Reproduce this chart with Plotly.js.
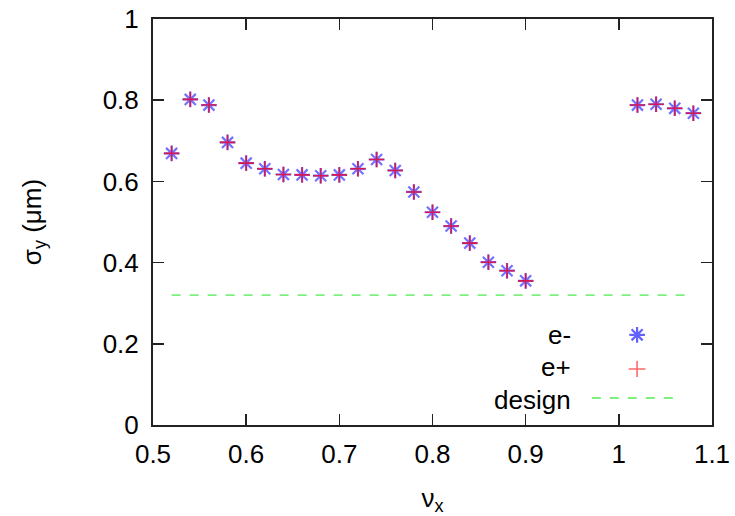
<!DOCTYPE html>
<html><head><meta charset="utf-8">
<script src="https://cdn.plot.ly/plotly-3.0.1.min.js"></script>
<style>html,body{margin:0;padding:0;background:#fff}#chart{width:735px;height:516px}</style>
</head><body><div id="chart"></div>
<script>
const tuneX = [0.52,0.54,0.56,0.58,0.60,0.62,0.64,0.66,0.68,0.70,0.72,0.74,0.76,0.78,0.80,0.82,0.84,0.86,0.88,0.90,1.02,1.04,1.06,1.08];
const sigmaElectron = [0.669,0.802,0.788,0.696,0.645,0.631,0.617,0.616,0.614,0.616,0.631,0.654,0.627,0.574,0.524,0.490,0.448,0.401,0.380,0.355,0.788,0.790,0.780,0.768];
const sigmaPositron = [0.669,0.802,0.788,0.696,0.645,0.631,0.617,0.616,0.614,0.616,0.631,0.654,0.627,0.574,0.524,0.490,0.448,0.401,0.380,0.355,0.788,0.790,0.780,0.768];
const designX = [0.52,1.08];
const designY = [0.32,0.32];
const seriesNames = ['e-','e+','design'];
const xTickVals = [0.5,0.6,0.7,0.8,0.9,1.0,1.1];
const xTickText = ['0.5','0.6','0.7','0.8','0.9','1','1.1'];
const yTickVals = [0,0.2,0.4,0.6,0.8,1];
const yTickText = ['0','0.2','0.4','0.6','0.8','1'];

const font = "Liberation Sans, Arial, sans-serif";
const fs = 26;
const blue = 'rgba(60,60,255,0.72)';
const red = 'rgba(240,0,40,0.8)';
const green = '#7ef07e';

const traces = [
  {x: tuneX, y: sigmaElectron, mode:'markers', type:'scatter', name: seriesNames[0],
   marker:{symbol:'asterisk-open', size:13, color:blue, line:{color:blue, width:2.2}}},
  {x: tuneX, y: sigmaPositron, mode:'markers', type:'scatter', name: seriesNames[1],
   marker:{symbol:'cross-thin-open', size:11, color:red, line:{color:red, width:1.6}}},
  {x: designX, y: designY, mode:'lines', type:'scatter', name: seriesNames[2],
   line:{color:green, width:1.8, dash:'dash'}},
  // legend keys on invisible overlay axes
  {x:[0.5], y:[0.5], xaxis:'x2', yaxis:'y2', mode:'markers', showlegend:false, hoverinfo:'skip',
   marker:{symbol:'asterisk-open', size:13, color:'rgba(70,70,255,0.85)', line:{color:'rgba(70,70,255,0.85)', width:2.2}}},
  {x:[0.5], y:[0.5], xaxis:'x3', yaxis:'y3', mode:'markers', showlegend:false, hoverinfo:'skip',
   marker:{symbol:'cross-thin-open', size:12, color:'rgba(255,90,90,0.9)', line:{color:'rgba(255,90,90,0.9)', width:1.6}}},
  {x:[0,1], y:[0.5,0.5], xaxis:'x4', yaxis:'y4', mode:'lines', showlegend:false, hoverinfo:'skip',
   line:{color:green, width:1.8, dash:'dash'}}
];

const hid = {visible:false, range:[0,1], fixedrange:true, showticklabels:false};
const layout = {
  width:735, height:516,
  margin:{l:153, r:23, t:19, b:91},
  paper_bgcolor:'#fff', plot_bgcolor:'#fff',
  showlegend:false,
  font:{family:font, size:fs, color:'#000'},
  xaxis:{range:[0.5,1.1], tickvals:xTickVals, ticktext:xTickText,
    showgrid:false, zeroline:false, showline:true, mirror:'ticks', linecolor:'#222', linewidth:2,
    ticks:'inside', ticklen:11, tickwidth:1.5, tickcolor:'#222', ticklabelstandoff:5,
    tickfont:{family:font, size:fs},
    title:{text:'ν<sub>x</sub>', font:{family:font, size:fs}, standoff:22}},
  yaxis:{range:[0,1], tickvals:yTickVals, ticktext:yTickText,
    showgrid:false, zeroline:false, showline:true, mirror:'ticks', linecolor:'#222', linewidth:2,
    ticks:'inside', ticklen:11, tickwidth:1.5, tickcolor:'#222', ticklabelstandoff:7,
    tickfont:{family:font, size:fs},
    title:{text:'σ<sub>y</sub> (μm)', font:{family:font, size:fs}, standoff:54}},
  xaxis2:Object.assign({domain:[0.846,0.886], anchor:'y2'}, hid),
  yaxis2:Object.assign({domain:[0.202,0.242], anchor:'x2'}, hid),
  xaxis3:Object.assign({domain:[0.846,0.886], anchor:'y3'}, hid),
  yaxis3:Object.assign({domain:[0.118,0.158], anchor:'x3'}, hid),
  xaxis4:Object.assign({domain:[0.785,0.936], anchor:'y4'}, hid),
  yaxis4:Object.assign({domain:[0.0465,0.0865], anchor:'x4'}, hid),
  annotations:[
    {text:seriesNames[0], xref:'paper', yref:'paper', x:0.751, y:0.222, xanchor:'right', yanchor:'middle', showarrow:false, font:{family:font, size:fs}},
    {text:seriesNames[1], xref:'paper', yref:'paper', x:0.751, y:0.143, xanchor:'right', yanchor:'middle', showarrow:false, font:{family:font, size:fs}},
    {text:seriesNames[2], xref:'paper', yref:'paper', x:0.751, y:0.062, xanchor:'right', yanchor:'middle', showarrow:false, font:{family:font, size:fs}}
  ]
};
Plotly.newPlot('chart', traces, layout, {displayModeBar:false, staticPlot:true});
</script></body></html>
